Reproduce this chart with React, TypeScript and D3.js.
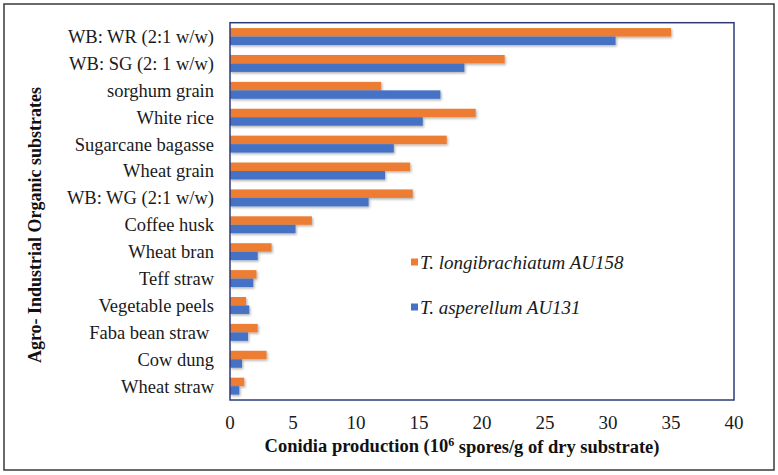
import React, { useEffect, useRef } from 'react';
import * as d3 from 'd3';

// substrates, top to bottom
const categories = [
  'WB: WR (2:1 w/w)',
  'WB: SG (2: 1 w/w)',
  'sorghum grain',
  'White rice',
  'Sugarcane bagasse',
  'Wheat grain',
  'WB: WG (2:1 w/w)',
  'Coffee husk',
  'Wheat bran',
  'Teff straw',
  'Vegetable peels',
  'Faba bean straw ',
  'Cow dung',
  'Wheat straw',
];
const longibrachiatum = [35, 21.8, 12, 19.5, 17.2, 14.3, 14.5, 6.5, 3.3, 2.1, 1.27, 2.2, 2.9, 1.13];
const asperellum = [30.6, 18.6, 16.7, 15.3, 13, 12.3, 11, 5.2, 2.2, 1.85, 1.53, 1.43, 0.95, 0.74];
const seriesNames = ['T. longibrachiatum AU158', 'T. asperellum AU131'];
const seriesColors = ['#ED7D31', '#4472C4'];
const xTicks = [0, 5, 10, 15, 20, 25, 30, 35, 40];

export default function App() {
  const ref = useRef<SVGSVGElement>(null);

  useEffect(() => {
    document.body.style.margin = '0';
    const width = 778;
    const height = 475;
    const left = 230;
    const right = 734;
    const top = 22.7;
    const bottom = 400;
    const font = '"Liberation Serif", "Times New Roman", serif';

    const svg = d3.select(ref.current).attr('width', width).attr('height', height);
    svg.selectAll('*').remove();

    const defs = svg.append('defs');
    const f = defs.append('filter').attr('id', 'shadow').attr('x', '-5%').attr('y', '-30%').attr('width', '115%').attr('height', '180%');
    f.append('feDropShadow').attr('dx', 1.2).attr('dy', 1.5).attr('stdDeviation', 1).attr('flood-color', '#000').attr('flood-opacity', 0.3);

    svg.append('rect').attr('width', width).attr('height', height).attr('fill', '#fff');
    svg
      .append('rect')
      .attr('x', 4)
      .attr('y', 4)
      .attr('width', 770)
      .attr('height', 466)
      .attr('fill', 'none')
      .attr('stroke', '#3a3a3a')
      .attr('stroke-width', 1.5);

    const x = d3.scaleLinear().domain([0, 40]).range([left, right]);
    const y = d3.scaleBand<string>().domain(categories).range([top, bottom]).paddingInner(0.37).paddingOuter(0.2);
    const sub = d3.scaleBand<number>().domain([0, 1]).range([0, y.bandwidth()]);

    const data = [longibrachiatum, asperellum];
    data.forEach((vals, s) => {
      svg
        .append('g')
        .attr('filter', 'url(#shadow)')
        .selectAll('rect')
        .data(vals)
        .join('rect')
        .attr('x', x(0))
        .attr('y', (d, i) => (y(categories[i]) as number) + (sub(s) as number))
        .attr('width', (d) => x(d) - x(0))
        .attr('height', sub.bandwidth())
        .attr('fill', seriesColors[s]);
    });

    // plot frame
    svg
      .append('rect')
      .attr('x', left)
      .attr('y', top)
      .attr('width', right - left)
      .attr('height', bottom - top)
      .attr('fill', 'none')
      .attr('stroke', '#2E3B78')
      .attr('stroke-width', 1.5);

    // category labels
    svg
      .append('g')
      .selectAll('text')
      .data(categories)
      .join('text')
      .attr('x', left - 16)
      .attr('y', (d) => (y(d) as number) + y.bandwidth() / 2)
      .attr('dy', '0.35em')
      .attr('text-anchor', 'end')
      .attr('font-family', font)
      .attr('font-size', 18.5)
      .attr('fill', '#1a1a1a')
      .style('white-space', 'pre')
      .text((d) => d);

    // x tick labels
    svg
      .append('g')
      .selectAll('text')
      .data(xTicks)
      .join('text')
      .attr('x', (d) => x(d))
      .attr('y', 422)
      .attr('dy', '0.35em')
      .attr('text-anchor', 'middle')
      .attr('font-family', font)
      .attr('font-size', 19)
      .attr('fill', '#1a1a1a')
      .text((d) => d);

    // x title
    const xt = svg
      .append('text')
      .attr('x', 462)
      .attr('y', 446)
      .attr('dy', '0.35em')
      .attr('text-anchor', 'middle')
      .attr('font-family', font)
      .attr('font-size', 18.5)
      .attr('font-weight', 'bold')
      .attr('fill', '#111');
    xt.append('tspan').text('Conidia production (10');
    xt.append('tspan').attr('font-size', 12).attr('dy', '-0.5em').text('6');
    xt.append('tspan').attr('dy', '0.35em').text(' spores/g of dry substrate)');

    // y title
    svg
      .append('text')
      .attr('transform', 'translate(35,225) rotate(-90)')
      .attr('dy', '0.35em')
      .attr('text-anchor', 'middle')
      .attr('font-family', font)
      .attr('font-size', 18)
      .attr('font-weight', 'bold')
      .attr('fill', '#111')
      .text('Agro- Industrial Organic substrates');

    // legend
    const lg = svg
      .append('g')
      .selectAll('g')
      .data(seriesNames)
      .join('g')
      .attr('transform', (d, i) => `translate(411,${262 + i * 45})`);
    lg.append('rect')
      .attr('x', 0)
      .attr('y', -3.5)
      .attr('width', 7)
      .attr('height', 7)
      .attr('fill', (d, i) => seriesColors[i]);
    lg.append('text')
      .attr('x', 9)
      .attr('y', 0)
      .attr('dy', '0.35em')
      .attr('font-family', font)
      .attr('font-size', 19)
      .attr('font-style', 'italic')
      .attr('fill', '#1a1a1a')
      .text((d) => d);
  }, []);

  return <svg ref={ref}></svg>;
}
